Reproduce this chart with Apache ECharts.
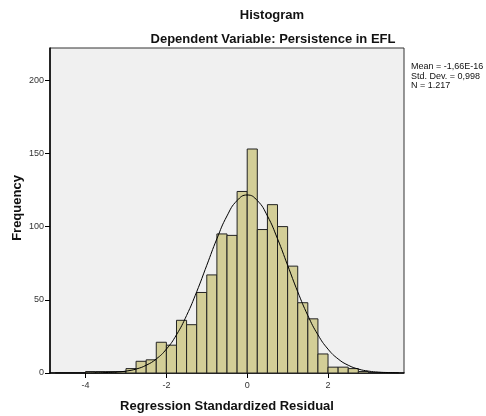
<!DOCTYPE html>
<html>
  <head>
    <meta charset="utf-8" />
    <script src="https://cdn.jsdelivr.net/npm/echarts@6.0.0/dist/echarts.min.js"></script>
  </head>
  <body style="margin:0;background:#fff;">
    <div id="main" style="width: 486px;height:416px;"></div>
    <script type="text/javascript">
      // bins of width 0.25 starting at -4
      var binStart = -4;
      var binWidth = 0.25;
      var counts = [1, 1, 1, 1, 3, 8, 9, 21, 19, 36, 33, 55, 67, 95, 94, 124,
                    153, 98, 115, 100, 73, 48, 37, 13, 4, 4, 3, 1];
      // normal curve
      var curveX = [-4.75, -4.5, -4.25, -4, -3.75, -3.5, -3.25, -3, -2.75, -2.5, -2.25, -2,
                    -1.75, -1.5, -1.25, -1, -0.75, -0.5, -0.25, 0, 0.25, 0.5, 0.75, 1,
                    1.25, 1.5, 1.75, 2, 2.25, 2.5, 2.75, 3, 3.25, 3.5, 3.75];
      var curveY = [0, 0, 0, 0, 0.1, 0.3, 0.6, 1.3, 2.7, 5.3, 9.6, 16.3,
                    26.1, 39.3, 55.5, 73.6, 91.7, 107.3, 117.8, 121.6, 117.8, 107.3, 91.7, 73.6,
                    55.5, 39.3, 26.1, 16.3, 9.6, 5.3, 2.7, 1.3, 0.6, 0.3, 0.1];
      var xTicks = [-4, -2, 0, 2];
      var yTicks = [0, 50, 100, 150, 200];
      var statsText = 'Mean = -1,66E-16\nStd. Dev. = 0,998\nN = 1.217';

      var barData = counts.map(function (c, i) {
        var x0 = binStart + i * binWidth;
        return [x0, x0 + binWidth, c];
      });
      var lineData = curveX.map(function (x, i) { return [x, curveY[i]]; });

      var font = 'Liberation Sans, Arial, sans-serif';
      var myChart = echarts.init(document.getElementById('main'));
      var option = {
        animation: false,
        backgroundColor: '#fff',
        title: [
          {
            text: 'Histogram',
            left: 267, top: 4, textAlign: 'center',
            textStyle: { fontFamily: font, fontSize: 13, fontWeight: 'bold', color: '#111' }
          },
          {
            text: 'Dependent Variable: Persistence in EFL',
            left: 268, top: 28, textAlign: 'center',
            textStyle: { fontFamily: font, fontSize: 13, fontWeight: 'bold', color: '#111' }
          }
        ],
        graphic: [
          {
            type: 'text', left: 411, top: 62,
            style: { text: statsText, font: '9px ' + font, fill: '#111', lineHeight: 9.5 }
          },
          {
            type: 'text', x: 17, y: 208, rotation: Math.PI / 2,
            style: { text: 'Frequency', font: 'bold 13px ' + font, fill: '#111',
                     align: 'center', verticalAlign: 'middle' }
          }
        ],
        grid: {
          left: 50, right: 82, top: 48, bottom: 43,
          outerBoundsMode: 'none',
          show: true, backgroundColor: '#f0f0f0', borderColor: '#333', borderWidth: 1
        },
        xAxis: {
          type: 'value', min: -4.88, max: 3.88,
          name: 'Regression Standardized Residual', nameLocation: 'middle', nameGap: 27,
          nameTextStyle: { fontFamily: font, fontSize: 13, fontWeight: 'bold', color: '#111' },
          axisLine: { onZero: false, lineStyle: { color: '#000', width: 1.5 } },
          axisTick: { customValues: xTicks, length: 5, lineStyle: { color: '#000' } },
          axisLabel: { customValues: xTicks, fontFamily: font, fontSize: 9, color: '#333', margin: 8 },
          splitLine: { show: false }
        },
        yAxis: {
          type: 'value', min: 0, max: 222,
          axisLine: { show: true, onZero: false, lineStyle: { color: '#000', width: 1.5 } },
          axisTick: { show: true, customValues: yTicks, length: 5, lineStyle: { color: '#000' } },
          axisLabel: { customValues: yTicks, fontFamily: font, fontSize: 9, color: '#333', margin: 6 },
          splitLine: { show: false }
        },
        series: [
          {
            type: 'custom',
            data: barData,
            renderItem: function (params, api) {
              var p0 = api.coord([api.value(0), api.value(2)]);
              var p1 = api.coord([api.value(1), 0]);
              return {
                type: 'rect',
                shape: { x: p0[0], y: p0[1], width: p1[0] - p0[0], height: p1[1] - p0[1] },
                style: { fill: '#d3ce97', stroke: '#222', lineWidth: 1 }
              };
            }
          },
          {
            type: 'line',
            data: lineData,
            smooth: true,
            symbol: 'none',
            clip: true,
            lineStyle: { color: '#000', width: 1 }
          }
        ]
      };
      myChart.setOption(option);
    </script>
  </body>
</html>
